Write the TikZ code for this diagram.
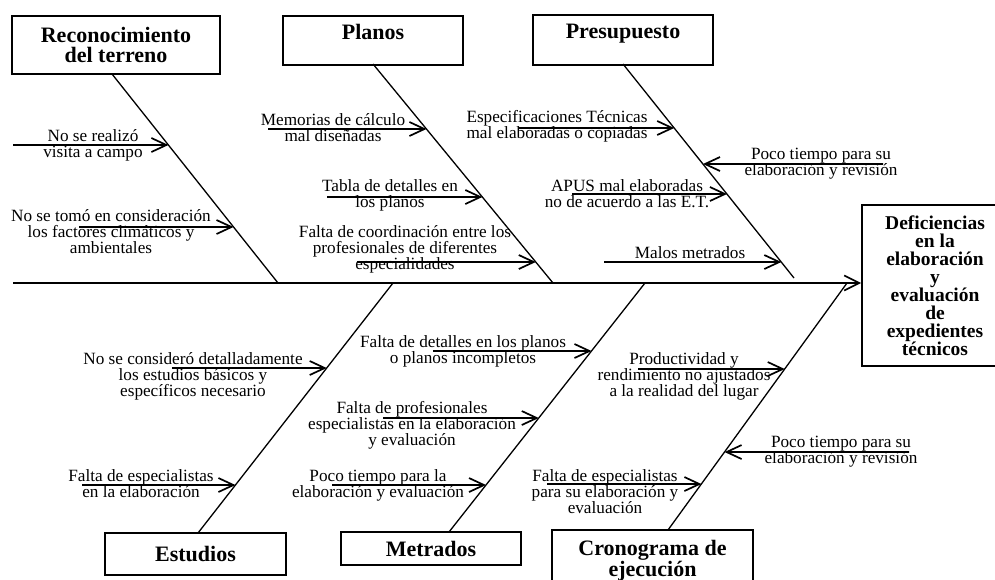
\documentclass[tikz,border=0pt]{standalone}
\usepackage{fontspec}
\setmainfont{Liberation Serif}
\usetikzlibrary{arrows.meta}
\begin{document}
\begin{tikzpicture}[x=1pt,y=-1pt,
  catbox/.style={draw, line width=1.8pt, align=center, inner sep=0pt,
    font=\bfseries\fontsize{22}{20}\selectfont},
  effbox/.style={draw, line width=1.8pt, align=center, inner sep=0pt,
    font=\bfseries\fontsize{19.5}{18}\selectfont},
  note/.style={align=center, inner sep=0pt, font=\fontsize{17.2}{16}\selectfont},
  bone/.style={line width=1.3pt},
  spine/.style={line width=1.7pt, -{Straight Barb[length=15pt,width=15pt]}},
  cause/.style={line width=1.7pt, -{Straight Barb[length=15pt,width=14pt]}},
]
\useasboundingbox (0,0) rectangle (995,580);

% ---- category boxes ----
\node[catbox, minimum width=208, minimum height=58] (rec) at (116,45)
  {Reconocimiento\\del terreno};
\node[catbox, minimum width=180, text height=24, text depth=25, anchor=north] (pla) at (373,15)
  {Planos};
\node[catbox, minimum width=180, text height=24, text depth=26, anchor=north] (pre) at (623,14)
  {Presupuesto};
\node[catbox, minimum width=181, minimum height=42] (est) at (195.5,554) {Estudios};
\node[catbox, minimum width=180, minimum height=33] (met) at (431,548.5) {Metrados};
\node[catbox, minimum width=201, minimum height=62] (cro) at (652.5,561)
  {Cronograma de\\ejecución};

% ---- effect box ----
\node[effbox, minimum width=146, minimum height=161] (eff) at (935,285.5)
  {Deficiencias\\en la\\elaboración\\y\\evaluación\\de\\expedientes\\técnicos};

% ---- spine ----
\coordinate (tail) at (13,283);
\draw[spine] (tail) -- (tail -| eff.west);

% ---- bones ----
\coordinate (b1a) at (112,74);  \coordinate (b1b) at (278,283);
\coordinate (b2a) at (373,64);  \coordinate (b2b) at (553,283);
\coordinate (b3a) at (623,64);  \coordinate (b3b) at (794,278);
\coordinate (b4a) at (393,283); \coordinate (b4b) at (198,533);
\coordinate (b5a) at (645,283); \coordinate (b5b) at (449,532);
\coordinate (b6a) at (847,283); \coordinate (b6b) at (668,530);
\foreach \i in {1,...,6} \draw[bone] (b\i a) -- (b\i b);

% ---- sub-cause arrows ----
\coordinate (s1) at (13,145);
\coordinate (t1) at (intersection of b1a--b1b and 0,145--10,145);
\coordinate (s2) at (79,227);
\coordinate (t2) at (intersection of b1a--b1b and 0,227--10,227);
\coordinate (s3) at (268,129);
\coordinate (t3) at (intersection of b2a--b2b and 0,129--10,129);
\coordinate (s4) at (327,197);
\coordinate (t4) at (intersection of b2a--b2b and 0,197--10,197);
\coordinate (s5) at (357,262);
\coordinate (t5) at (intersection of b2a--b2b and 0,262--10,262);
\coordinate (s6) at (518,128);
\coordinate (t6) at (intersection of b3a--b3b and 0,128--10,128);
\coordinate (s7) at (883,164);
\coordinate (t7) at (intersection of b3a--b3b and 0,164--10,164);
\coordinate (s8) at (572,194);
\coordinate (t8) at (intersection of b3a--b3b and 0,194--10,194);
\coordinate (s9) at (604,262);
\coordinate (t9) at (intersection of b3a--b3b and 0,262--10,262);
\coordinate (s10) at (172,368);
\coordinate (t10) at (intersection of b4a--b4b and 0,368--10,368);
\coordinate (s11) at (82,485);
\coordinate (t11) at (intersection of b4a--b4b and 0,485--10,485);
\coordinate (s12) at (433,351);
\coordinate (t12) at (intersection of b5a--b5b and 0,351--10,351);
\coordinate (s13) at (383,418);
\coordinate (t13) at (intersection of b5a--b5b and 0,418--10,418);
\coordinate (s14) at (332,485);
\coordinate (t14) at (intersection of b5a--b5b and 0,485--10,485);
\coordinate (s15) at (638,369);
\coordinate (t15) at (intersection of b6a--b6b and 0,369--10,369);
\coordinate (s16) at (909,452);
\coordinate (t16) at (intersection of b6a--b6b and 0,452--10,452);
\coordinate (s17) at (547,484);
\coordinate (t17) at (intersection of b6a--b6b and 0,484--10,484);
\foreach \i in {1,...,17} \draw[cause] (s\i) -- (t\i);

% ---- sub-cause labels ----
\node[note] (n1) at (93,145) {No se realizó\\visita a campo};
\node[note] (n2) at (111,232) {No se tomó en consideración\\los factores climáticos y\\ambientales};
\node[note] (n3) at (333,128) {Memorias de cálculo\\mal diseñadas};
\node[note] (n4) at (390,195) {Tabla de detalles en\\los planos};
\node[note] (n5) at (405,249) {Falta de coordinación entre los\\profesionales de diferentes\\especialidades};
\node[note] (n6) at (557,126) {Especificaciones Técnicas\\mal elaboradas o copiadas};
\node[note] (n7) at (821,164) {Poco tiempo para su\\elaboración y revisión};
\node[note] (n8) at (627,194) {APUS mal elaboradas\\no de acuerdo a las E.T.};
\node[note] (n9) at (690,253) {Malos metrados};
\node[note] (n10) at (193,376) {No se consideró detalladamente\\los estudios básicos y\\específicos necesario};
\node[note] (n11) at (141,484) {Falta de especialistas\\en la elaboración};
\node[note] (n12) at (463,351) {Falta de detalles en los planos\\o planos incompletos};
\node[note] (n13) at (412,425) {Falta de profesionales\\especialistas en la elaboración\\y evaluación};
\node[note] (n14) at (378,485) {Poco tiempo para la\\elaboración y evaluación};
\node[note] (n15) at (684,376) {Productividad y\\rendimiento no ajustados\\a la realidad del lugar};
\node[note] (n16) at (841,452) {Poco tiempo para su\\elaboración y revisión};
\node[note] (n17) at (605,492) {Falta de especialistas\\para su elaboración y\\evaluación};
\end{tikzpicture}
\end{document}
